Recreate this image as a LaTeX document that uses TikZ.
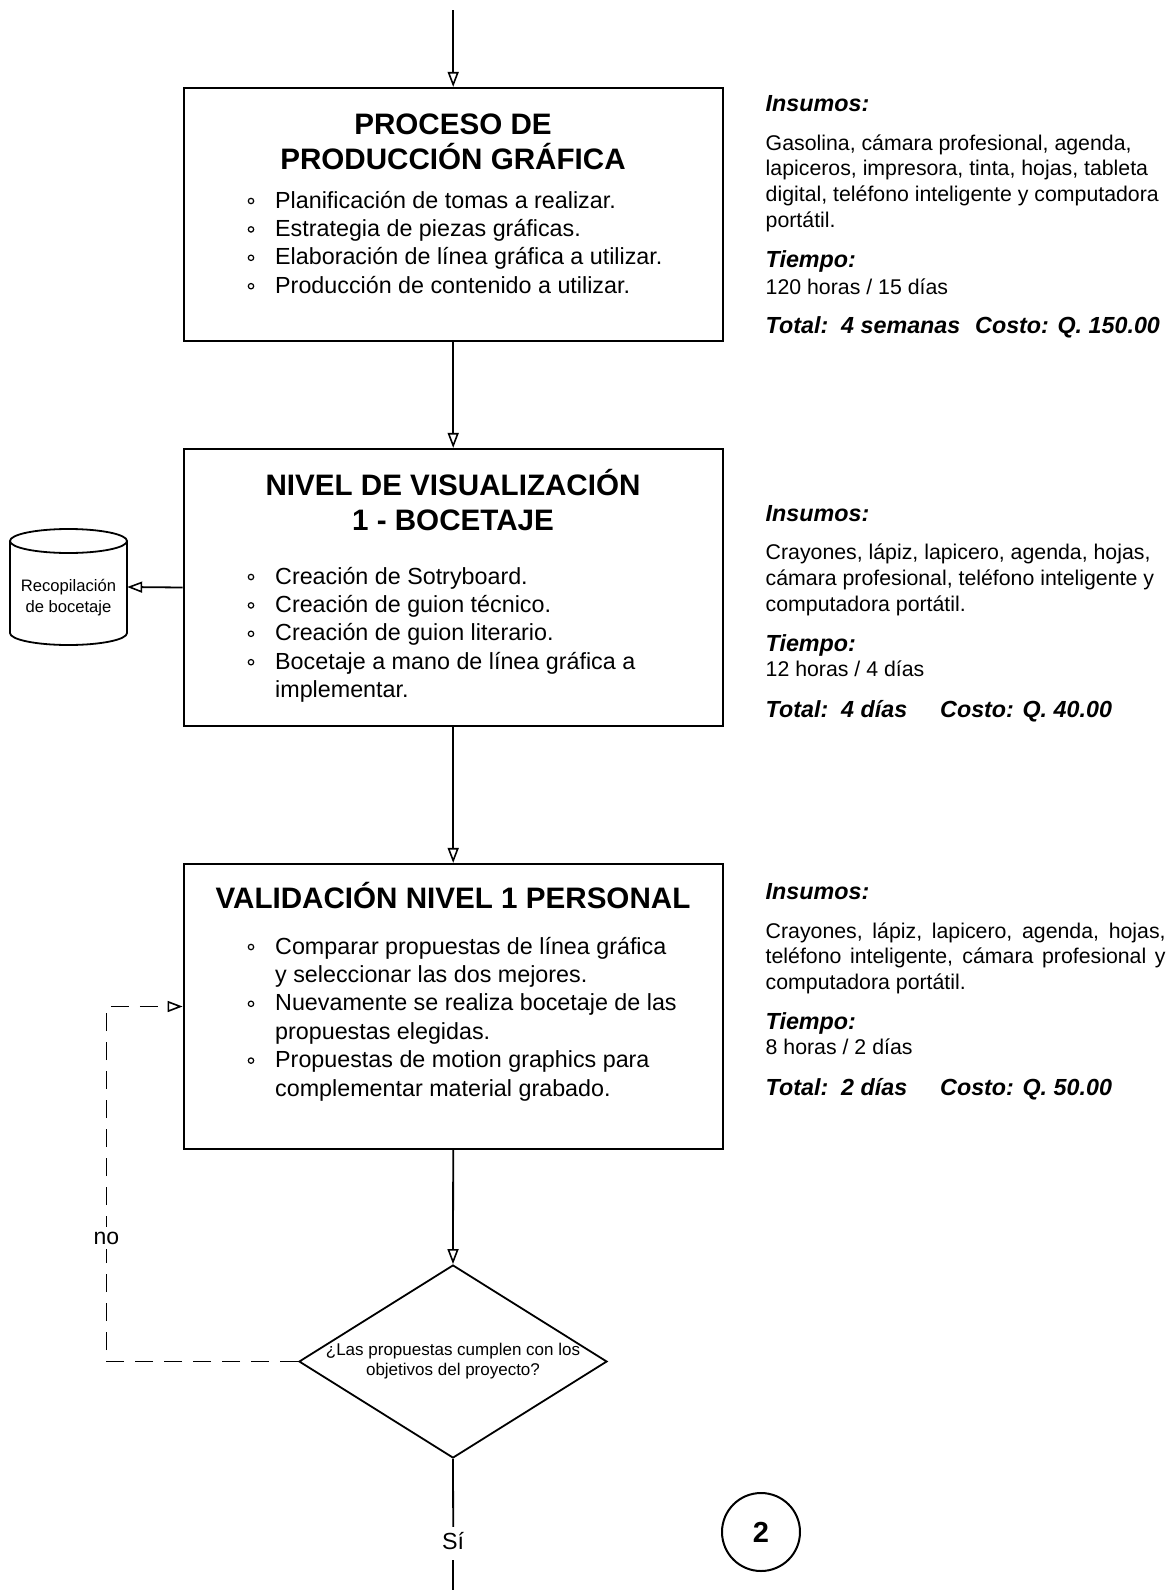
\documentclass[tikz,border=0pt]{standalone}
\usepackage{fontspec}
\setmainfont{Liberation Sans}
\usetikzlibrary{arrows.meta,shapes.geometric}

\begin{document}
\begin{tikzpicture}[x=1pt,y=-1pt,
  box/.style={draw, line width=2.2pt, minimum width=539pt, inner sep=0pt},
  title/.style={font=\fontsize{29.6pt}{35pt}\selectfont\bfseries, inner sep=0pt, anchor=base},
  item/.style={font=\fontsize{23.3pt}{28pt}\selectfont, inner sep=0pt, anchor=base west},
  bul/.style={line width=1.2pt},
  rbody/.style={font=\fontsize{21.3pt}{25.7pt}\selectfont, inner sep=0pt, anchor=base west},
  rhead/.style={font=\fontsize{23.3pt}{28pt}\selectfont\bfseries\itshape, inner sep=0pt, anchor=base west},
  wire/.style={line width=1.8pt},
  conn/.style={wire, -{Triangle[open,length=15pt,width=11pt,line width=1.6pt]}},
  lab/.style={font=\fontsize{23pt}{26pt}\selectfont, fill=white},
]
\useasboundingbox (0,0) rectangle (1172,1590);

% ---------- main process boxes ----------
\node[box, minimum height=253pt] (p1) at (453.2,214.5) {};
\node[box, minimum height=277pt] (p2) at (453.2,587.5) {};
\node[box, minimum height=285pt] (p3) at (453.2,1006.5) {};

% titles
\node[title] (p1t1) at (453,134) {PROCESO DE};
\node[title] (p1t2) at (453,169) {PRODUCCIÓN GRÁFICA};
\node[title] (p2t1) at (453,495) {NIVEL DE VISUALIZACIÓN};
\node[title] (p2t2) at (453,530) {1 - BOCETAJE};
\node[title] (p3t1) at (453,908) {VALIDACIÓN NIVEL 1 PERSONAL};

% bullet lists (text / 1 = line starts with a bullet)
\foreach \txt/\b [count=\i] in {
  {Planificación de tomas a realizar.}/1,
  {Estrategia de piezas gráficas.}/1,
  {Elaboración de línea gráfica a utilizar.}/1,
  {Producción de contenido a utilizar.}/1}{
  \node[item] (l1-\i) at (275,{208+28.4*(\i-1)}) {\txt};
  \ifnum\b=1 \draw[bul] (251,{208+28.4*(\i-1)-7}) circle (2.7pt);\fi
}
\foreach \txt/\b [count=\i] in {
  {Creación de Sotryboard.}/1,
  {Creación de guion técnico.}/1,
  {Creación de guion literario.}/1,
  {Bocetaje a mano de línea gráfica a}/1,
  {implementar.}/0}{
  \node[item] (l2-\i) at (275,{584+28.4*(\i-1)}) {\txt};
  \ifnum\b=1 \draw[bul] (251,{584+28.4*(\i-1)-7}) circle (2.7pt);\fi
}
\foreach \txt/\b [count=\i] in {
  {Comparar propuestas de línea gráfica}/1,
  {y seleccionar las dos mejores.}/0,
  {Nuevamente se realiza bocetaje de las}/1,
  {propuestas elegidas.}/0,
  {Propuestas de motion graphics para}/1,
  {complementar material grabado.}/0}{
  \node[item] (l3-\i) at (275,{954+28.4*(\i-1)}) {\txt};
  \ifnum\b=1 \draw[bul] (251,{954+28.4*(\i-1)-7}) circle (2.7pt);\fi
}

% ---------- storage cylinder ----------
\node[minimum width=117pt, minimum height=116pt, inner sep=0pt] (cyl) at (68.5,587) {};
\draw[line width=1.8pt] (68.5,541) ellipse [x radius=58.5pt, y radius=12pt];
\draw[line width=1.8pt] (10,541) -- (10,633)
  arc[start angle=180, end angle=360, x radius=58.5pt, y radius=12pt] -- (127,541);
\node[font=\fontsize{16.6pt}{21pt}\selectfont, align=center, inner sep=0pt] (cylt) at (68.5,598)
  {Recopilación\\de bocetaje};

% ---------- decision ----------
\node[draw, diamond, aspect=1.596, minimum width=308pt, minimum height=193pt,
      inner sep=0pt, line width=1.8pt] (dec) at (453,1361.5) {};
\node[font=\fontsize{17pt}{20.3pt}\selectfont, align=center, inner sep=0pt] (dect) at (453,1361)
  {¿Las propuestas cumplen con los\\objetivos del proyecto?};

% ---------- page connector ----------
\node[draw, circle, minimum size=78pt, line width=2pt, inner sep=0pt,
      font=\fontsize{29pt}{29pt}\selectfont\bfseries] (pg) at (761,1532) {2};

% ---------- connectors ----------
\coordinate (start) at (453.2,10);
\coordinate (lp1) at (106.5,1361.5);
\coordinate (lp2) at (106.5,1006.5);
\coordinate (bot) at (453.2,1590);
\draw[conn] (start) -- (p1.north);
\draw[conn] (p1.south) -- (p2.north);
\draw[conn] (p2.west) -- (cyl.east);
\draw[conn] (p2.south) -- (p3.north);
\draw[conn] (p3.south) -- (dec.north);
\draw[conn, dash pattern=on 18pt off 11pt] (dec.west) -- (lp1) -- (lp2) -- (p3.west);
\node[lab, inner sep=5pt] (no) at (106.5,1238) {no};
\node[lab, font=\fontsize{23.3pt}{26pt}\selectfont, text height=17pt, text depth=6pt,
      inner ysep=5pt, inner xsep=2pt, anchor=base] (si) at (453.2,1549) {Sí};
\draw[wire] (dec.south) -- (si.north);
\draw[wire] (si.south) -- (bot);

% ---------- resources, time and cost ----------
\node[rhead] (h1a) at (765.5,111.5) {Insumos:};
\foreach \txt [count=\i] in {
  {Gasolina, cámara profesional, agenda,},
  {lapiceros, impresora, tinta, hojas, tableta},
  {digital, teléfono inteligente y computadora},
  {portátil.}}{
  \node[rbody] (r1-\i) at (765.5,{150+25.7*(\i-1)}) {\txt};
}
\node[rhead] (h1b) at (765.5,267.6) {Tiempo:};
\node[rbody] (t1) at (765.5,294) {120 horas / 15 días};
\node[rhead] (tot1) at (765.5,333.5) {Total:\ \ 4 semanas};
\node[rhead] (cost1) at (975,333.5) {Costo: Q. 150.00};

\node[rhead] (h2a) at (765.5,521) {Insumos:};
\foreach \txt [count=\i] in {
  {Crayones, lápiz, lapicero, agenda, hojas,},
  {cámara profesional, teléfono inteligente y},
  {computadora portátil.}}{
  \node[rbody] (r2-\i) at (765.5,{559.6+25.7*(\i-1)}) {\txt};
}
\node[rhead] (h2b) at (765.5,651) {Tiempo:};
\node[rbody] (t2) at (765.5,676) {12 horas / 4 días};
\node[rhead] (tot2) at (765.5,717) {Total:\ \ 4 días};
\node[rhead] (cost2) at (940,717) {Costo: Q. 40.00};

\node[rhead] (h3a) at (765.5,899) {Insumos:};
\node[rbody] (r3-1) at (765.5,938) {\makebox[400pt][s]{Crayones, lápiz, lapicero, agenda, hojas,}};
\node[rbody] (r3-2) at (765.5,963.7) {\makebox[400pt][s]{teléfono inteligente, cámara profesional y}};
\node[rbody] (r3-3) at (765.5,989.4) {computadora portátil.};
\node[rhead] (h3b) at (765.5,1029) {Tiempo:};
\node[rbody] (t3) at (765.5,1054) {8 horas / 2 días};
\node[rhead] (tot3) at (765.5,1095) {Total:\ \ 2 días};
\node[rhead] (cost3) at (940,1095) {Costo: Q. 50.00};

\end{tikzpicture}
\end{document}
